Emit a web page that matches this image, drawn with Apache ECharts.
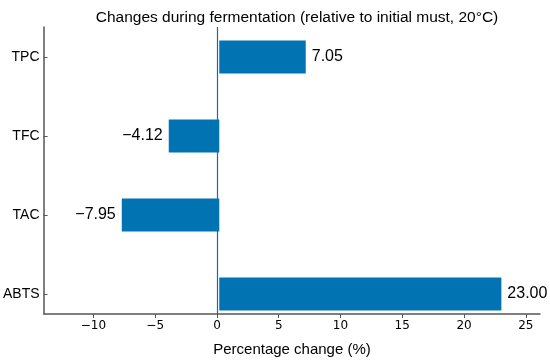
<!DOCTYPE html>
<html>
<head>
<meta charset="utf-8">
<script src="https://cdn.jsdelivr.net/npm/echarts@6/dist/echarts.min.js"></script>
<style>
  html, body { margin: 0; padding: 0; background: #fff; }
  #main { width: 550px; height: 362px; }
</style>
</head>
<body>
<div id="main"></div>
<script>
var categories = ['TPC', 'TFC', 'TAC', 'ABTS'];
var changes = [7.05, -4.12, -7.95, 23.00];
var xTicks = [-10, -5, 0, 5, 10, 15, 20, 25];

var barColor = '#0173B2';
var axisColor = '#555';
var xMin = -14, xMax = 26.15;

function minus(s) { return String(s).replace('-', '\u2212'); }

var chart = echarts.init(document.getElementById('main'));

var barData = changes.map(function (v) {
  return {
    value: v,
    label: { position: v < 0 ? 'left' : 'right' }
  };
});

var option = {
  animation: false,
  title: {
    text: 'Changes during fermentation (relative to initial must, 20\u00b0C)',
    left: 292, top: 5, textAlign: 'center',
    textStyle: { fontFamily: 'Liberation Sans', fontSize: 15.5, fontWeight: 'normal', color: '#000' }
  },
  grid: [
    // bars + category labels
    { left: 44, right: 10, top: 17.5, height: 316 },
    // frame: left spine and x axis
    { left: 44, right: 10, top: 27, height: 296 }
  ],
  xAxis: [
    { gridIndex: 0, type: 'value', min: xMin, max: xMax, show: false },
    {
      gridIndex: 1, type: 'value', min: xMin, max: xMax,
      name: 'Percentage change (%)', nameLocation: 'middle', nameGap: 28,
      nameTextStyle: { fontFamily: 'Liberation Sans', fontSize: 15, color: '#000' },
      axisLine: { onZero: false, lineStyle: { color: axisColor, width: 1.5 } },
      axisTick: { show: true, length: 4, customValues: xTicks, lineStyle: { color: axisColor } },
      axisLabel: {
        customValues: xTicks, margin: 6,
        fontFamily: 'DejaVu Sans', fontSize: 12, color: '#000',
        formatter: function (v) { return minus(v); }
      },
      splitLine: { show: false }
    }
  ],
  yAxis: [
    {
      gridIndex: 0, type: 'category', data: categories, inverse: true,
      axisLine: { show: false, onZero: false },
      axisTick: { show: true, alignWithLabel: true, length: 4, lineStyle: { color: axisColor } },
      axisLabel: { margin: 8, fontFamily: 'Liberation Sans', fontSize: 14, color: '#000' }
    },
    {
      gridIndex: 1, type: 'value', min: 0, max: 1,
      axisLine: { show: true, onZero: false, lineStyle: { color: axisColor, width: 1.5 } },
      axisTick: { show: false }, axisLabel: { show: false }, splitLine: { show: false }
    }
  ],
  series: [
    {
      type: 'bar', xAxisIndex: 0, yAxisIndex: 0,
      data: barData, barWidth: 33, z: 2,
      itemStyle: { color: barColor },
      label: {
        show: true, distance: 6,
        fontFamily: 'Liberation Sans', fontSize: 16, color: '#000',
        formatter: function (p) { return minus(p.value.toFixed(2)); }
      }
    },
    {
      type: 'line', xAxisIndex: 1, yAxisIndex: 1, data: [], z: 5,
      color: barColor,
      itemStyle: { color: barColor },
      lineStyle: { color: barColor },
      markLine: {
        silent: true, symbol: ['none', 'none'], label: { show: false },
        lineStyle: { color: barColor, width: 1.2, type: 'solid', opacity: 1 },
        data: [{ xAxis: 0 }]
      }
    }
  ]
};

chart.setOption(option);
</script>
</body>
</html>
